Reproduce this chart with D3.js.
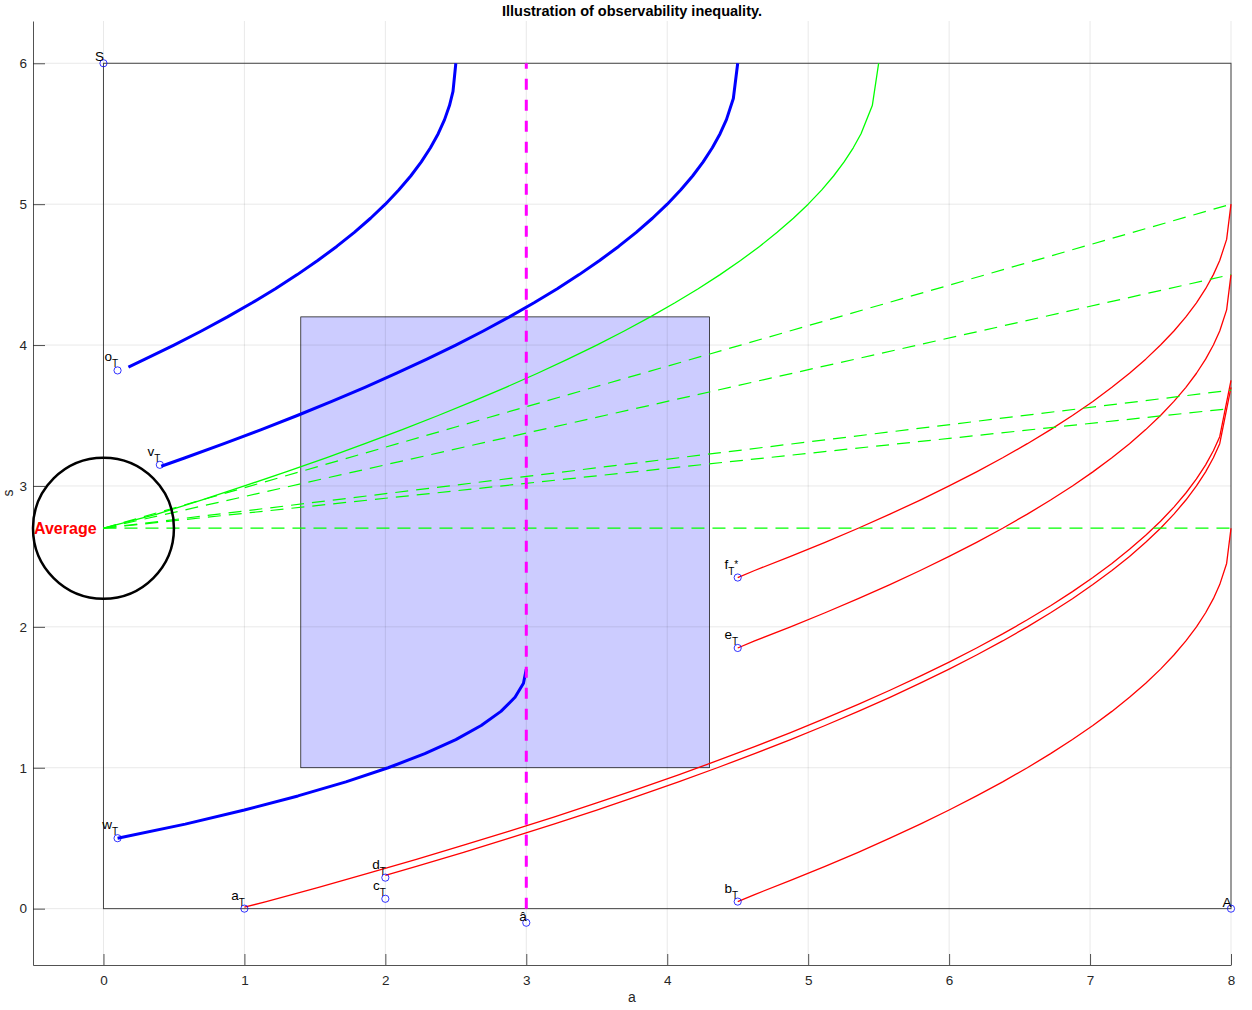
<!DOCTYPE html>
<html><head><meta charset="utf-8">
<script src="https://cdn.jsdelivr.net/npm/d3@7"></script>
<style>body{margin:0;background:#fff}svg{display:block}</style>
</head><body><svg id="c" width="1252" height="1010"></svg>
<script>
const xTicks = [0,1,2,3,4,5,6,7,8];
const yTicks = [0,1,2,3,4,5,6];
const titleText = "Illustration of observability inequality.";
const xLabel = "a", yLabel = "s";

const blueTop = [[0.177,3.844],[0.295,3.9],[0.5,4.0],[0.695,4.1],[0.88,4.2],[1.055,4.3],[1.22,4.4],[1.375,4.5],[1.52,4.6],[1.655,4.7],[1.78,4.8],[1.895,4.9],[2.0,5.0],[2.095,5.1],[2.18,5.2],[2.255,5.3],[2.32,5.4],[2.375,5.5],[2.42,5.6],[2.455,5.7],[2.48,5.8],[2.5,6.0]];
const blueMid = [[0.41,3.14],[0.58,3.2],[0.855,3.3],[1.12,3.4],[1.375,3.5],[1.62,3.6],[1.855,3.7],[2.08,3.8],[2.295,3.9],[2.5,4.0],[2.695,4.1],[2.88,4.2],[3.055,4.3],[3.22,4.4],[3.375,4.5],[3.52,4.6],[3.655,4.7],[3.78,4.8],[3.895,4.9],[4.0,5.0],[4.095,5.1],[4.18,5.2],[4.255,5.3],[4.32,5.4],[4.375,5.5],[4.42,5.6],[4.469,5.75],[4.5,6.0]];
const blueLow = [[0.1,0.5],[0.58,0.6],[1.0,0.7],[1.38,0.8],[1.72,0.9],[2.02,1.0],[2.28,1.1],[2.5,1.2],[2.68,1.3],[2.82,1.4],[2.92,1.5],[2.98,1.6],[3.0,1.7]];
const greenCurve = [[0,2.7],[0.38,2.8],[0.695,2.9],[1.0,3.0],[1.295,3.1],[1.58,3.2],[1.855,3.3],[2.12,3.4],[2.375,3.5],[2.62,3.6],[2.855,3.7],[3.08,3.8],[3.295,3.9],[3.5,4.0],[3.695,4.1],[3.88,4.2],[4.055,4.3],[4.22,4.4],[4.375,4.5],[4.52,4.6],[4.655,4.7],[4.78,4.8],[4.895,4.9],[5.0,5.0],[5.095,5.1],[5.18,5.2],[5.255,5.3],[5.32,5.4],[5.375,5.5],[5.455,5.7],[5.5,6.0]];
const redA = [[1.0,0.01],[1.155,0.05],[1.52,0.15],[1.875,0.25],[2.22,0.35],[2.555,0.45],[2.88,0.55],[3.195,0.65],[3.5,0.75],[3.795,0.85],[4.08,0.95],[4.355,1.05],[4.62,1.15],[4.875,1.25],[5.12,1.35],[5.355,1.45],[5.58,1.55],[5.795,1.65],[6.0,1.75],[6.195,1.85],[6.38,1.95],[6.555,2.05],[6.72,2.15],[6.875,2.25],[7.02,2.35],[7.155,2.45],[7.28,2.55],[7.395,2.65],[7.5,2.75],[7.595,2.85],[7.68,2.95],[7.755,3.05],[7.82,3.15],[7.875,3.25],[7.92,3.35],[8.0,3.75]];
const redD = [[2.0,0.236],[2.22,0.3],[2.555,0.4],[2.88,0.5],[3.195,0.6],[3.5,0.7],[3.795,0.8],[4.08,0.9],[4.355,1.0],[4.62,1.1],[4.875,1.2],[5.12,1.3],[5.355,1.4],[5.58,1.5],[5.795,1.6],[6.0,1.7],[6.195,1.8],[6.38,1.9],[6.555,2.0],[6.72,2.1],[6.875,2.2],[7.02,2.3],[7.155,2.4],[7.28,2.5],[7.395,2.6],[7.5,2.7],[7.595,2.8],[7.68,2.9],[7.755,3.0],[7.82,3.1],[7.875,3.2],[7.92,3.3],[8.0,3.7]];
const redF = [[4.5,2.35],[4.62,2.4],[4.875,2.5],[5.12,2.6],[5.355,2.7],[5.58,2.8],[5.795,2.9],[6.0,3.0],[6.195,3.1],[6.38,3.2],[6.555,3.3],[6.72,3.4],[6.875,3.5],[7.02,3.6],[7.155,3.7],[7.28,3.8],[7.395,3.9],[7.5,4.0],[7.595,4.1],[7.68,4.2],[7.755,4.3],[7.82,4.4],[7.875,4.5],[7.92,4.6],[7.969,4.75],[8.0,5.0]];
const redE = [[4.5,1.85],[4.62,1.9],[4.875,2.0],[5.12,2.1],[5.355,2.2],[5.58,2.3],[5.795,2.4],[6.0,2.5],[6.195,2.6],[6.38,2.7],[6.555,2.8],[6.72,2.9],[6.875,3.0],[7.02,3.1],[7.155,3.2],[7.28,3.3],[7.395,3.4],[7.5,3.5],[7.595,3.6],[7.68,3.7],[7.755,3.8],[7.82,3.9],[7.875,4.0],[7.92,4.1],[7.969,4.25],[8.0,4.5]];
const redB = [[4.5,0.05],[4.62,0.1],[4.875,0.2],[5.12,0.3],[5.355,0.4],[5.58,0.5],[5.795,0.6],[6.0,0.7],[6.195,0.8],[6.38,0.9],[6.555,1.0],[6.72,1.1],[6.875,1.2],[7.02,1.3],[7.155,1.4],[7.28,1.5],[7.395,1.6],[7.5,1.7],[7.595,1.8],[7.68,1.9],[7.755,2.0],[7.82,2.1],[7.875,2.2],[7.92,2.3],[7.969,2.45],[8.0,2.7]];
const dashOrigin = [0, 2.7];
const dashEndA = 8;
const dashEndS = [5.0, 4.5, 3.68, 3.55, 2.7];
const boxA = [0, 8], boxS = [0, 6];
const obsA = [1.4, 4.3], obsS = [1.0, 4.2];
const avgCenter = [0, 2.7], avgRadius = 0.5, avgText = "Average";
const hatA = 3, hatS = [0, 6];
const pointNames = ['S','A','o','v','w','a','c','d','â','b','e','f'];
const pointSubs  = ['', '', 'T','T','T','T','T','T','', 'T','T','T'];
const pointSups  = ['', '', '', '', '', '', '', '', '', '', '', '*'];
const pointA = [0, 8, 0.1, 0.4, 0.1, 1, 2, 2, 3, 4.5, 4.5, 4.5];
const pointS = [6, 0, 3.82, 3.15, 0.5, 0, 0.07, 0.22, -0.1, 0.05, 1.85, 2.35];

const svg = d3.select('#c');
const font = "'Liberation Sans', Arial, Helvetica, sans-serif";
const L = 33, R = 1231, T = 21, B = 965;
const x = d3.scaleLinear().domain([-0.5, 8]).range([L, R]);
const y = d3.scaleLinear().domain([-0.4, 6.3]).range([B, T]);

// obs rectangle (patch)
svg.append('rect').attr('x', x(obsA[0])).attr('y', y(obsS[1]))
  .attr('width', x(obsA[1]) - x(obsA[0])).attr('height', y(obsS[0]) - y(obsS[1]))
  .attr('fill', '#ccccff').attr('stroke', '#000').attr('stroke-width', 0.7);

// grid
const g = svg.append('g');
g.selectAll('.gx').data(xTicks).join('line').attr('x1', d => x(d)).attr('x2', d => x(d))
  .attr('y1', T).attr('y2', B).attr('stroke', 'rgba(0,0,0,0.09)').attr('stroke-width', 1);
g.selectAll('.gy').data(yTicks).join('line').attr('y1', d => y(d)).attr('y2', d => y(d))
  .attr('x1', L).attr('x2', R).attr('stroke', 'rgba(0,0,0,0.09)').attr('stroke-width', 1);

// axes
const ax = svg.append('g').attr('transform', `translate(0,${B})`)
  .call(d3.axisBottom(x).tickValues(xTicks).tickFormat(d3.format('d')).tickSizeInner(-11).tickSizeOuter(0).tickPadding(10));
const ay = svg.append('g').attr('transform', `translate(${L},0)`)
  .call(d3.axisLeft(y).tickValues(yTicks).tickFormat(d3.format('d')).tickSizeInner(-12).tickSizeOuter(0).tickPadding(6));
[ax, ay].forEach(a => {
  a.selectAll('path,line').attr('stroke', '#262626').attr('stroke-width', 0.8);
  a.selectAll('text').attr('fill', '#262626').style('font-family', font).style('font-size', '13.5px');
});

// box [0,8]x[0,6]
svg.append('rect').attr('x', x(boxA[0])).attr('y', y(boxS[1]))
  .attr('width', x(boxA[1]) - x(boxA[0])).attr('height', y(boxS[0]) - y(boxS[1]))
  .attr('fill', 'none').attr('stroke', '#444').attr('stroke-width', 1);

const line = d3.line().x(d => x(d[0])).y(d => y(d[1])).curve(d3.curveLinear);

// red curves
[redA, redD, redF, redE, redB].forEach(c => svg.append('path').attr('d', line(c))
  .attr('fill', 'none').attr('stroke', '#ff0000').attr('stroke-width', 1.3).attr('stroke-linejoin', 'round'));
// green solid
svg.append('path').attr('d', line(greenCurve)).attr('fill', 'none').attr('stroke', '#00ff00')
  .attr('stroke-width', 1.3).attr('stroke-linejoin', 'round');
// green dashed
dashEndS.forEach(s => svg.append('line').attr('x1', x(dashOrigin[0])).attr('y1', y(dashOrigin[1]))
  .attr('x2', x(dashEndA)).attr('y2', y(s)).attr('stroke', '#00ff00').attr('stroke-width', 1.2)
  .attr('stroke-dasharray', '13,8'));
// blue curves
[blueTop, blueMid, blueLow].forEach(c => svg.append('path').attr('d', line(c))
  .attr('fill', 'none').attr('stroke', '#0000ff').attr('stroke-width', 3).attr('stroke-linejoin', 'round'));
// magenta
svg.append('line').attr('x1', x(hatA)).attr('x2', x(hatA)).attr('y1', y(hatS[0])).attr('y2', y(hatS[1]))
  .attr('stroke', '#ff00ff').attr('stroke-width', 3).attr('stroke-dasharray', '11,10');
// average circle
svg.append('circle').attr('cx', x(avgCenter[0])).attr('cy', y(avgCenter[1]))
  .attr('r', x(avgRadius) - x(0)).attr('fill', 'none').attr('stroke', '#000').attr('stroke-width', 2.5);
svg.append('text').attr('x', x(-0.5) + 1).attr('y', y(avgCenter[1]) + 6)
  .attr('fill', '#ff0000').style('font-family', font).style('font-size', '16px').style('font-weight', 'bold')
  .text(avgText);

// points
pointA.forEach((a, i) => {
  const px = x(a), py = y(pointS[i]);
  svg.append('circle').attr('cx', px).attr('cy', py).attr('r', 3.6)
    .attr('fill', 'none').attr('stroke', '#0000ff').attr('stroke-width', 0.8);
  const t = svg.append('text').attr('x', px + 0.5).attr('text-anchor', 'end')
    .attr('fill', '#000').style('font-family', font).style('font-size', '13.5px');
  if (pointSubs[i]) {
    t.attr('y', py - 9);
    t.append('tspan').text(pointNames[i]);
    t.append('tspan').attr('dy', 6).style('font-size', '10px').text(pointSubs[i]);
    if (pointSups[i]) t.append('tspan').attr('dy', -7).style('font-size', '10px').text(pointSups[i]);
  } else {
    t.attr('y', py - 2).text(pointNames[i]);
  }
});

// title & axis labels
const tt = svg.append('text').attr('x', (L + R) / 2).attr('y', 16).attr('text-anchor', 'middle')
  .style('font-family', font).style('font-size', '13.5px').style('font-weight', 'bold').attr('fill', '#000')
  .text(titleText);
const w = tt.node().getComputedTextLength();
tt.style('font-size', (13.5 * 260 / w) + 'px');
svg.append('text').attr('x', (L + R) / 2).attr('y', 1002).attr('text-anchor', 'middle')
  .style('font-family', font).style('font-size', '14px').attr('fill', '#262626').text(xLabel);
svg.append('text').attr('transform', `translate(13,${(T + B) / 2}) rotate(-90)`).attr('text-anchor', 'middle')
  .style('font-family', font).style('font-size', '14px').attr('fill', '#262626').text(yLabel);
</script></body></html>
